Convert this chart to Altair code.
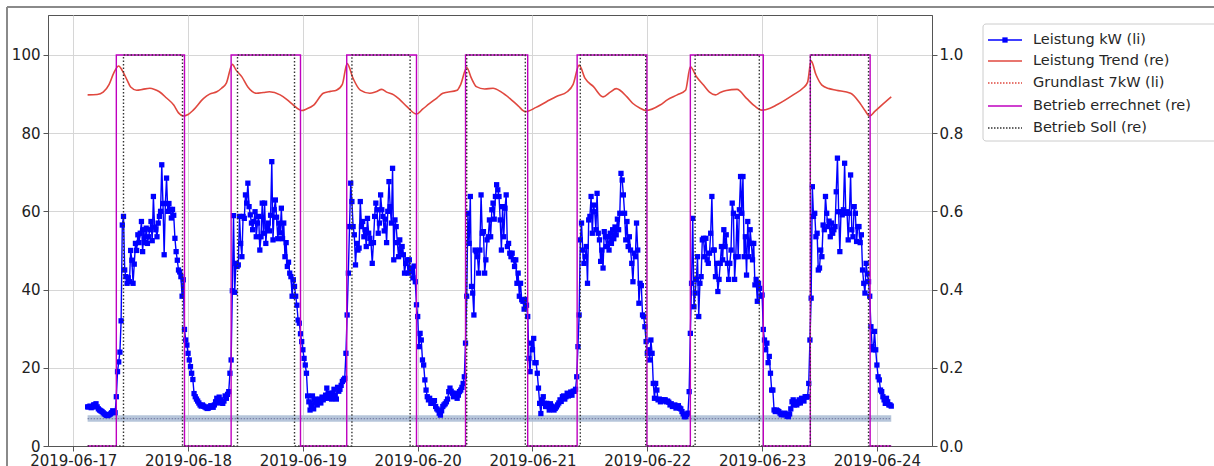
import altair as alt
import pandas as pd

# ---------------- data ----------------
# Leistung kW, 15-minute values starting 2019-06-17 03:00 (one list per day, 03:00 .. 02:45)
day1 = [10, 10, 10.2, 9.8, 10, 10.5, 10.5, 10.8, 10, 9.5, 9.2, 9, 8.8, 8.5, 8.2, 8, 7.8, 7.8, 8, 8.2, 8.5, 9, 8.8, 8.5,
        12.6, 19, 21.5, 24, 32,
        56.5, 58.7, 45, 43.3, 41.6, 43, 42, 50, 47.5, 41.6,
        46.5, 51.8, 50, 54, 52, 54.4, 57.4, 49.7, 55.3, 52,
        55.7, 51.8, 53.5, 55.3, 57.4, 52.5, 63.8, 56, 55.3, 53.5,
        57, 58.7, 60, 71.9, 62, 48.9, 62, 68.5, 60, 62,
        60.5, 58.3, 60.5, 59, 53.1, 49.7, 47.5, 45, 44.5, 43.3,
        38.3, 42.5,
        29.8, 27.1, 25.8, 23.7, 22, 20.3, 18.6, 17, 13.4, 12.6, 12, 11.5, 11, 10.5, 10.2]
day2 = [10.5, 10.2, 10, 9.8, 9.6, 9.7, 10, 10.3, 10.1, 9.9, 10.5, 11.3, 12.2, 11, 12.5, 11.8, 11.2, 10.9, 11.5, 12.8, 12.2, 13.2, 13.9, 18.6,
        22,
        39.7, 58.9, 39.3, 46.7, 45.9, 46.3, 58.7, 51.8, 48.4, 58.7,
        58.2, 64.2, 62.1, 67.2, 61.2, 59.1, 57, 55.3, 57.4, 59.9,
        53.5, 57, 58.7, 50.1, 53.5, 62.1, 54.4, 62.1, 51.8, 56,
        57, 55, 59, 72.7, 52.7, 60.4, 62.9, 58.5, 53, 57,
        54.5, 60.8, 53, 57, 48.4, 52, 45.9, 47, 44.2, 43.3,
        38.3, 42.5, 40.8, 38.3, 36, 32.2, 31.4, 28.7, 26.7, 24.6,
        22.4, 20.7, 18.6, 12.8, 11.3, 9.2, 10.5,
        12.8, 9.5, 12, 11]
day3 = [10.5, 11.5, 12, 11, 12.5, 11.8, 12.2, 13, 14.8, 12.2, 13.5, 12.8, 12, 13.5, 14.5, 13, 12, 15, 14, 14.5, 15.5, 16.5, 16.9, 17.3,
        23.7, 33.5, 44.2, 56.1, 67.2, 62.5, 56.1, 54, 46.3, 51.8,
        50.1, 50.6, 62.5, 56.1, 57.4, 53.5, 55.3, 51, 58.2, 54.4,
        53.1, 51.8, 46.7, 52, 58.7, 62.1, 60.4, 54.4, 57, 64.2,
        60.4, 58.7, 55, 58, 52, 60, 67.6, 61.2, 57, 71,
        47.6, 57.8, 56.1, 52, 48.4, 52.7, 49.7, 51, 48.9, 44.2,
        46.7, 47.6, 44.2, 47.6, 44.5, 45.5, 43, 46, 42,
        36.1, 33.1, 25.4, 28.8, 27.1, 22, 20.7, 16.9, 14.3, 12.6, 11.8, 12.2, 10.9]
day4 = [10.9, 11.3, 11.6, 10.1, 9.5, 9.2, 8.4, 7.9, 9, 10.1, 10.5, 10.8, 11.3, 12, 13.9, 14.8, 14, 13.5, 12.6, 13, 13.5, 12.2, 13, 13.9, 14.3, 15, 16, 17.7,
        26.3, 38.3, 59.5, 51.8, 63.8, 40.8, 39.1, 33.5, 50.1, 49.7,
        48.4, 44.2, 50.1, 64.2, 54.4, 54.8, 44.2, 47.6, 52.7, 53.5,
        57.8, 53.5, 60.4, 62.1, 58, 63.8, 66.8, 65.5, 63.8, 57.8,
        50.1, 61.2, 53.5, 60.8, 64.2, 51, 51.8, 49.3, 48.4, 49.3,
        47.6, 45.9, 47.6, 41.6, 44.2, 38.3, 41.6, 37.4, 37, 35,
        37.5, 36, 33.1, 22.4, 19, 26.3, 24.6, 27.5, 21.3, 21.3,
        18.6, 14.8, 10.9, 8.3, 11.8, 12.6, 10.9, 10.1]
day5 = [10.9, 10.1, 9.2, 10.8, 10.2, 9.5, 9.2, 9.6, 10, 10.5, 11, 11.8, 11.4, 12.6, 12.8, 12, 12.6, 13.5, 12.8, 13, 13.8, 13, 14, 14,
        14.5, 17.7, 25.4, 33.5,
        52.7, 57, 50.1, 46.7, 48.4, 51, 41.6, 57.8, 58.7, 63.8,
        54.4, 61.6, 59.9, 55.3, 64.6, 54.4, 52.7, 47.2, 50.1, 45.5,
        54.8, 53.5, 51, 53.5, 50.1, 54.4, 51.8, 55.3, 53, 56,
        54, 58, 55.3, 59.5, 69.7, 68, 64.2, 59.5, 52.7, 57.4,
        51, 53.5, 50.1, 46.7, 42, 49.3, 48.4, 57, 50.1, 36.5,
        41.6, 41, 33.5, 33.1, 30.5, 26.7,
        23.7, 24.6, 22, 27.1, 23.7, 16, 12.2, 16, 14.3, 11.8, 12, 11.3]
day6 = [11.8, 11.5, 11.8, 11.8, 11.3, 11.5, 11.2, 10.5, 10.8, 10.1, 10.3, 10.5, 9.7, 9.9, 10.3, 9.7, 9.5, 8.8, 8.2, 7.5, 7.5, 8, 8.4,
        13.9, 28.8, 41.6,
        58.2, 35.6, 39.1, 42.6, 48.4, 33.1, 41.6, 43.3, 52.7, 53.1,
        48.4, 53.1, 47.6, 46.7, 49.3, 54.4, 63.8, 50.1, 50.1, 43.3,
        46.7, 39.5, 42.6, 46.7, 51, 47.6, 55.3, 51, 54, 46.7,
        42.6, 46.7, 50.1, 62.1, 59.5, 42.6, 48.4, 58.7, 48.4, 60.4,
        68.9, 59.5, 68.9, 48.4, 53.5, 43.7, 57.4, 48.4, 55.3, 51.8,
        47.6, 51.8, 41.2, 42.6, 37, 41.6, 40.3, 38.3, 38.6, 29.8,
        27.1, 24.6, 26.3, 21.3, 22.9, 18.6, 14.3, 14.3, 9.2, 8.8]
day7 = [9.2, 9, 8.8, 8.4, 8, 8.2, 8, 8.4, 8, 7.6, 7.5, 8.2, 9.5, 11.3, 11.8, 10.5, 11.3, 10.5, 11, 11.8, 11, 12.2, 11.8, 11.5, 12.6, 12.5, 12.6,
        16, 27.1, 37.8,
        66.3, 58.7, 59.5, 53.5, 54.4, 45, 45.5, 50.1, 48.4, 56.5,
        55.3, 63.8, 59.5, 56.1, 57.5, 53.5, 57, 54.4, 55.3, 56.1,
        65, 73.6, 59.9, 49.7, 59.9, 59.1, 60.4, 72.3, 59.5, 59.9,
        52.7, 59.5, 69.3, 55.3, 53.5, 61.2, 59.5, 52.3, 56.1, 56.1,
        52, 54, 45, 41.6, 39.1, 46.7, 44, 42, 38.3,
        30.5, 25.4, 24.6, 29.3, 24.6, 20.7, 17.7, 16.9, 14.3, 13.9, 12.6, 11.8, 10.9, 12.2, 11.3, 10.5, 10.5]
day_end = [10.2]

# Leistung Trend (right axis)
trend_times = [
    "2019-06-17 03:00", "2019-06-17 05:00", "2019-06-17 06:15", "2019-06-17 07:30", "2019-06-17 08:30",
    "2019-06-17 09:30", "2019-06-17 10:15", "2019-06-17 11:15", "2019-06-17 12:00", "2019-06-17 13:15",
    "2019-06-17 14:30", "2019-06-17 16:00", "2019-06-17 17:00", "2019-06-17 18:00", "2019-06-17 19:30",
    "2019-06-17 21:00", "2019-06-17 22:00", "2019-06-17 23:00", "2019-06-18 00:00", "2019-06-18 01:05",
    "2019-06-18 03:15", "2019-06-18 04:30", "2019-06-18 06:00", "2019-06-18 07:00", "2019-06-18 08:00",
    "2019-06-18 09:15", "2019-06-18 10:00", "2019-06-18 11:15", "2019-06-18 12:30", "2019-06-18 14:15",
    "2019-06-18 15:45", "2019-06-18 17:00", "2019-06-18 19:15", "2019-06-18 20:45", "2019-06-18 22:00",
    "2019-06-18 23:45", "2019-06-19 00:45", "2019-06-19 02:15", "2019-06-19 04:15", "2019-06-19 05:45",
    "2019-06-19 07:00", "2019-06-19 08:15", "2019-06-19 09:15", "2019-06-19 10:30", "2019-06-19 12:00",
    "2019-06-19 14:00", "2019-06-19 15:15", "2019-06-19 16:30", "2019-06-19 17:30", "2019-06-19 19:00",
    "2019-06-19 20:15", "2019-06-19 21:45", "2019-06-19 23:45", "2019-06-20 01:05", "2019-06-20 02:30",
    "2019-06-20 04:00", "2019-06-20 05:15", "2019-06-20 08:15", "2019-06-20 09:00", "2019-06-20 10:15",
    "2019-06-20 11:15", "2019-06-20 12:15", "2019-06-20 14:00", "2019-06-20 15:45", "2019-06-20 17:30",
    "2019-06-20 19:15", "2019-06-20 21:00", "2019-06-20 22:30", "2019-06-21 00:45", "2019-06-21 03:00",
    "2019-06-21 05:00", "2019-06-21 07:15", "2019-06-21 08:30", "2019-06-21 09:45", "2019-06-21 11:00",
    "2019-06-21 12:45", "2019-06-21 14:45", "2019-06-21 16:15", "2019-06-21 17:30", "2019-06-21 19:45",
    "2019-06-21 21:00", "2019-06-21 22:30", "2019-06-21 23:45", "2019-06-22 02:40", "2019-06-22 04:15",
    "2019-06-22 06:15", "2019-06-22 08:00", "2019-06-22 09:00", "2019-06-22 10:15", "2019-06-22 11:45",
    "2019-06-22 13:00", "2019-06-22 14:15", "2019-06-22 15:15", "2019-06-22 16:30", "2019-06-22 18:45",
    "2019-06-22 20:45", "2019-06-22 22:30", "2019-06-22 23:55", "2019-06-23 01:40", "2019-06-23 03:00",
    "2019-06-23 06:30", "2019-06-23 08:30", "2019-06-23 09:30", "2019-06-23 10:15", "2019-06-23 11:15",
    "2019-06-23 12:30", "2019-06-23 14:00", "2019-06-23 15:30", "2019-06-23 18:30", "2019-06-23 20:30",
    "2019-06-23 21:30", "2019-06-23 22:30", "2019-06-23 23:30", "2019-06-24 00:40", "2019-06-24 03:00"]
trend_values = [
    0.898, 0.899, 0.905, 0.925, 0.955, 0.972, 0.96, 0.936, 0.918, 0.91,
    0.912, 0.915, 0.912, 0.906, 0.89, 0.872, 0.852, 0.844, 0.848, 0.859,
    0.889, 0.9, 0.906, 0.915, 0.928, 0.976, 0.962, 0.944, 0.918, 0.902,
    0.904, 0.906, 0.898, 0.885, 0.872, 0.858, 0.862, 0.872, 0.902, 0.907,
    0.91, 0.925, 0.978, 0.94, 0.91, 0.902, 0.906, 0.912, 0.905, 0.898,
    0.886, 0.868, 0.849, 0.862, 0.876, 0.89, 0.902, 0.91, 0.925, 0.968,
    0.94, 0.919, 0.913, 0.915, 0.905, 0.889, 0.87, 0.855, 0.866, 0.881,
    0.894, 0.906, 0.925, 0.974, 0.94, 0.919, 0.893, 0.905, 0.914, 0.893,
    0.876, 0.864, 0.858, 0.872, 0.886, 0.898, 0.91, 0.97, 0.945, 0.923,
    0.905, 0.898, 0.904, 0.909, 0.912, 0.889, 0.869, 0.859, 0.864, 0.872,
    0.898, 0.915, 0.93, 0.985, 0.95, 0.923, 0.914, 0.91, 0.902, 0.876,
    0.858, 0.844, 0.855, 0.868, 0.893]

# Betrieb errechnet (right axis): switch-on / switch-off times
errechnet_on = ["2019-06-17 09:00", "2019-06-18 09:00", "2019-06-19 09:10", "2019-06-20 10:00",
                "2019-06-21 09:20", "2019-06-22 09:00", "2019-06-23 10:05"]
errechnet_off = ["2019-06-17 23:15", "2019-06-18 23:30", "2019-06-19 23:45", "2019-06-20 23:00",
                 "2019-06-21 23:55", "2019-06-23 00:15", "2019-06-23 22:35"]
# Betrieb Soll (right axis)
soll_on = ["2019-06-17 10:30", "2019-06-18 10:20", "2019-06-19 10:15", "2019-06-20 10:15",
           "2019-06-21 10:00", "2019-06-22 10:00", "2019-06-23 10:05"]
soll_off = ["2019-06-17 22:50", "2019-06-18 22:15", "2019-06-19 22:25", "2019-06-20 22:30",
            "2019-06-21 23:40", "2019-06-22 23:25", "2019-06-23 22:15"]

series_start = "2019-06-17 03:00"
series_end = "2019-06-24 03:00"
grundlast_kw = 7

legend_labels = ["Leistung kW (li)", "Leistung Trend (re)", "Grundlast 7kW (li)",
                 "Betrieb errechnet (re)", "Betrieb Soll (re)"]
day_ticks = [17, 18, 19, 20, 21, 22, 23, 24]

# ---------------- tables ----------------
def iso(s):
    return s.replace(" ", "T") + ":00"

leistung = day1 + day2 + day3 + day4 + day5 + day6 + day7 + day_end
t_l = pd.date_range(series_start, periods=len(leistung), freq="15min").strftime("%Y-%m-%dT%H:%M:%S")
df_l = pd.DataFrame({"t": list(t_l), "v": leistung})
df_trend = pd.DataFrame({"t": [iso(s) for s in trend_times], "v": trend_values})
df_gl = pd.DataFrame({"t": [iso(series_start), iso(series_end)], "v": [grundlast_kw, grundlast_kw]})


def steps(on, off):
    rows = [(series_start, 0)]
    for a, b in zip(on, off):
        rows += [(a, 0), (a, 1), (b, 1), (b, 0)]
    rows.append((series_end, 0))
    return pd.DataFrame({"t": [iso(r[0]) for r in rows], "v": [r[1] for r in rows],
                         "i": list(range(len(rows)))})


df_err = steps(errechnet_on, errechnet_off)
df_soll = steps(soll_on, soll_off)

# ---------------- encodings ----------------
x_enc = alt.X(
    "t:T",
    scale=alt.Scale(domain=[alt.DateTime(year=2019, month=6, date=16, hours=18, minutes=43),
                            alt.DateTime(year=2019, month=6, date=24, hours=11, minutes=31)]),
    axis=alt.Axis(values=[alt.DateTime(year=2019, month=6, date=d) for d in day_ticks],
                  format="%Y-%m-%d", title=None, grid=True, labelFlush=False,
                  labelOverlap=False, tickSize=5, labelPadding=2),
)
y_left = alt.Y("v:Q", scale=alt.Scale(domain=[0, 110.2], nice=False),
               axis=alt.Axis(values=[0, 20, 40, 60, 80, 100], title=None, grid=True,
                             orient="left", tickSize=5, labelPadding=3))
y_right = alt.Y("v:Q", scale=alt.Scale(domain=[0, 1.1023], nice=False),
                axis=alt.Axis(values=[0, 0.2, 0.4, 0.6, 0.8, 1.0], format=".1f", title=None,
                              grid=False, orient="right", tickSize=5, labelPadding=2))

band = alt.Chart(df_gl).mark_line(color="#aebfd6", strokeWidth=6.5, opacity=0.9).encode(x=x_enc, y=y_left)
band_dot = alt.Chart(df_gl).mark_line(color="#7c84aa", strokeWidth=1.3, strokeDash=[1.5, 1.5]).encode(x=x_enc, y=y_left)
blue_line = alt.Chart(df_l).mark_line(color="#0000ff", strokeWidth=1.4).encode(x=x_enc, y=y_left)
blue_pts = alt.Chart(df_l).mark_point(shape="square", filled=True, size=28, color="#0000ff", opacity=1).encode(x=x_enc, y=y_left)
left = alt.layer(band, band_dot, blue_line, blue_pts)

red = alt.Chart(df_trend).mark_line(color="#e0483f", strokeWidth=1.6, interpolate="monotone").encode(x=x_enc, y=y_right)
purple = alt.Chart(df_err).mark_line(color="#bf00bf", strokeWidth=1.4).encode(x=x_enc, y=y_right, order="i:Q")
soll = alt.Chart(df_soll).mark_line(color="#333333", strokeWidth=1.4, strokeDash=[1.5, 2]).encode(x=x_enc, y=y_right, order="i:Q")
right = alt.layer(red, purple, soll)

# ---------------- legend (drawn manually, outside the plot) ----------------
one = pd.DataFrame({"a": [0]})
leg_y = [25, 46, 68, 91, 113]
lx0, lx1, ltx = 940, 974, 985
legend_layers = [
    alt.Chart(one).mark_rect(fill="white", stroke="#cccccc", strokeWidth=1, cornerRadius=3).encode(
        x=alt.value(935), x2=alt.value(1185), y=alt.value(9), y2=alt.value(126)),
    alt.Chart(one).mark_rule(color="#0000ff", strokeWidth=1.4).encode(x=alt.value(lx0), x2=alt.value(lx1), y=alt.value(leg_y[0])),
    alt.Chart(one).mark_point(shape="square", filled=True, size=28, color="#0000ff", opacity=1).encode(
        x=alt.value((lx0 + lx1) / 2), y=alt.value(leg_y[0])),
    alt.Chart(one).mark_rule(color="#e0483f", strokeWidth=1.6).encode(x=alt.value(lx0), x2=alt.value(lx1), y=alt.value(leg_y[1])),
    alt.Chart(one).mark_rule(color="#e0483f", strokeWidth=1.3, strokeDash=[1.5, 1.5]).encode(x=alt.value(lx0), x2=alt.value(lx1), y=alt.value(leg_y[2])),
    alt.Chart(one).mark_rule(color="#bf00bf", strokeWidth=1.4).encode(x=alt.value(lx0), x2=alt.value(lx1), y=alt.value(leg_y[3])),
    alt.Chart(one).mark_rule(color="#333333", strokeWidth=1.3, strokeDash=[1.5, 1.5]).encode(x=alt.value(lx0), x2=alt.value(lx1), y=alt.value(leg_y[4])),
]
for lab, yy in zip(legend_labels, leg_y):
    legend_layers.append(
        alt.Chart(pd.DataFrame({"label": [lab]})).mark_text(
            align="left", baseline="middle", font="DejaVu Sans", fontSize=14.5, color="#262626"
        ).encode(x=alt.value(ltx), y=alt.value(yy), text="label:N")
    )

# figure frame (top and left edges visible in the reference)
frame = [
    alt.Chart(one).mark_rule(color="#8a8a8a", strokeWidth=2).encode(x=alt.value(-41), x2=alt.value(1180), y=alt.value(-8)),
    alt.Chart(one).mark_rule(color="#8a8a8a", strokeWidth=2).encode(x=alt.value(-41), y=alt.value(-8), y2=alt.value(460)),
]

chart = alt.layer(left, right, *legend_layers, *frame).resolve_scale(y="independent").properties(
    width=884, height=431,
    autosize=alt.AutoSizeParams(type="none"),
    padding={"left": 48, "top": 15, "right": 282, "bottom": 20},
    background="white",
).configure_view(stroke="#555555", strokeWidth=1).configure_axis(
    domainColor="#555555", tickColor="#555555", gridColor="#d6d6d6", gridWidth=1,
    labelFont="DejaVu Sans", labelFontSize=15, labelColor="#222222",
)

chart.save("out.html", embed_options={"renderer": "svg", "actions": False})
